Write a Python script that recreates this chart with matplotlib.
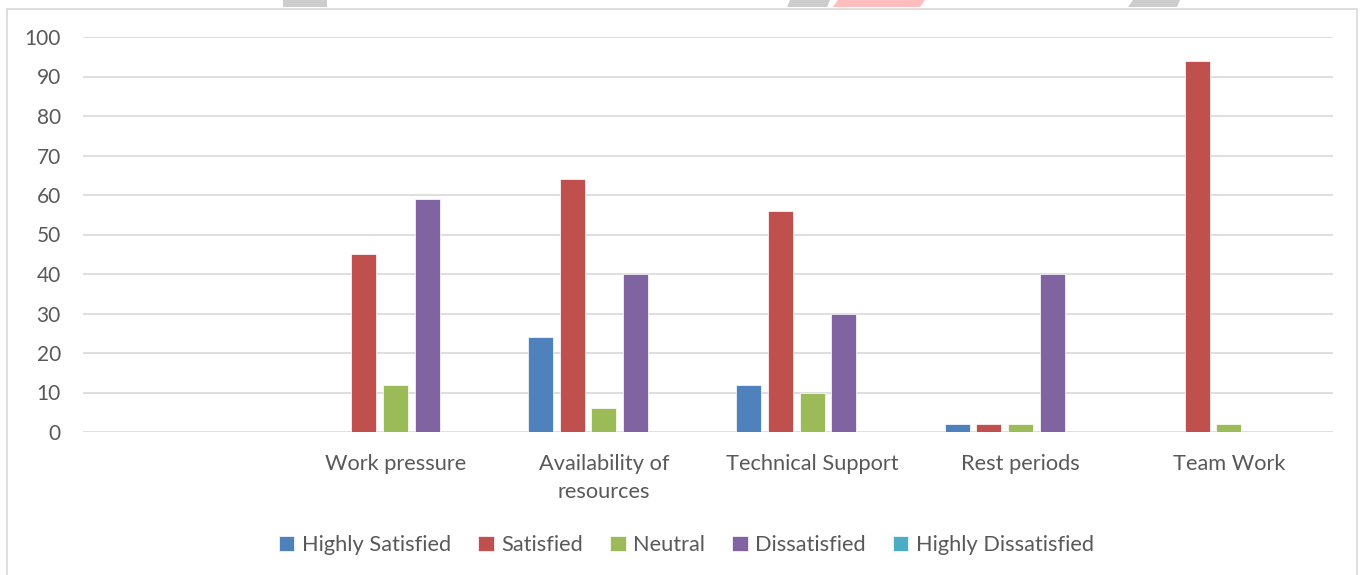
import matplotlib
matplotlib.use('Agg')
import matplotlib.pyplot as plt
from matplotlib.patches import Rectangle, Polygon
import numpy as np

plt.rcParams['font.family'] = ['Lato', 'DejaVu Sans']

# data
categories = ['', 'Work pressure', 'Availability of\nresources', 'Technical Support',
              'Rest periods', 'Team Work']
series = ['Highly Satisfied', 'Satisfied', 'Neutral', 'Dissatisfied', 'Highly Dissatisfied']
highly_satisfied = [0, 0, 24, 12, 2, 0]
satisfied = [0, 45, 64, 56, 2, 94]
neutral = [0, 12, 6, 10, 2, 2]
dissatisfied = [0, 59, 40, 30, 40, 0]
highly_dissatisfied = [0, 0, 0, 0, 0, 0]
colors = ['#4F81BD', '#C0504D', '#9BBB59', '#8064A2', '#4BACC6']

values = [highly_satisfied, satisfied, neutral, dissatisfied, highly_dissatisfied]
text_color = '#595959'

fig = plt.figure(figsize=(13.65, 5.75), dpi=100)
ax = fig.add_axes([83 / 1365, 1 - 432 / 575, 1250 / 1365, 395 / 575])

# outer chart frame
fig.patches.append(Rectangle((7 / 1365, -0.01), 1350 / 1365, 1 - 9 / 575 + 0.01,
                             transform=fig.transFigure, fill=False,
                             edgecolor='#D9D9D9', linewidth=1.2))
# decorations above the frame
for pts, c in [([(283, 0), (327, 0), (327, 7), (283, 7)], '#CCCCCC'),
               ([(790, 0), (830, 0), (827, 7), (787, 7)], '#CCCCCC'),
               ([(838, 0), (925, 0), (920, 7), (833, 7)], '#FFBDBD'),
               ([(1133, 0), (1180, 0), (1177, 7), (1128, 7)], '#CCCCCC')]:
    fig.patches.append(Polygon([(x / 1365, 1 - y / 575) for x, y in pts],
                               closed=True, transform=fig.transFigure,
                               facecolor=c, edgecolor='none'))

x = np.arange(len(categories))
step = 0.152
width = 0.12
for i, (name, vals) in enumerate(zip(series, values)):
    ax.bar(x + (i - 2) * step, vals, width, color=colors[i], label=name, zorder=3,
           edgecolor='white', linewidth=0.5)

ax.set_xlim(-0.5, len(categories) - 0.5)
ax.set_ylim(0, 100)
ax.set_yticks(range(0, 101, 10))
ax.yaxis.grid(True, color='#D9D9D9', linewidth=1.2, zorder=0)
ax.set_axisbelow(True)
for s in ax.spines.values():
    s.set_visible(False)
ax.tick_params(axis='both', length=0, colors=text_color)
ax.tick_params(axis='y', pad=16, labelsize=15)
ax.tick_params(axis='x', pad=15.5, labelsize=15.7)
ax.set_xticks(x)
ax.set_xticklabels(categories, linespacing=1.55)

fig.legend(loc='center', bbox_to_anchor=(0.503, 1 - 545 / 575), ncol=5, frameon=False,
           fontsize=15.7, labelcolor=text_color, handlelength=0.7, handleheight=0.7,
           handletextpad=0.35, columnspacing=1.25)

plt.savefig('out.png', dpi=100)
plt.close()
